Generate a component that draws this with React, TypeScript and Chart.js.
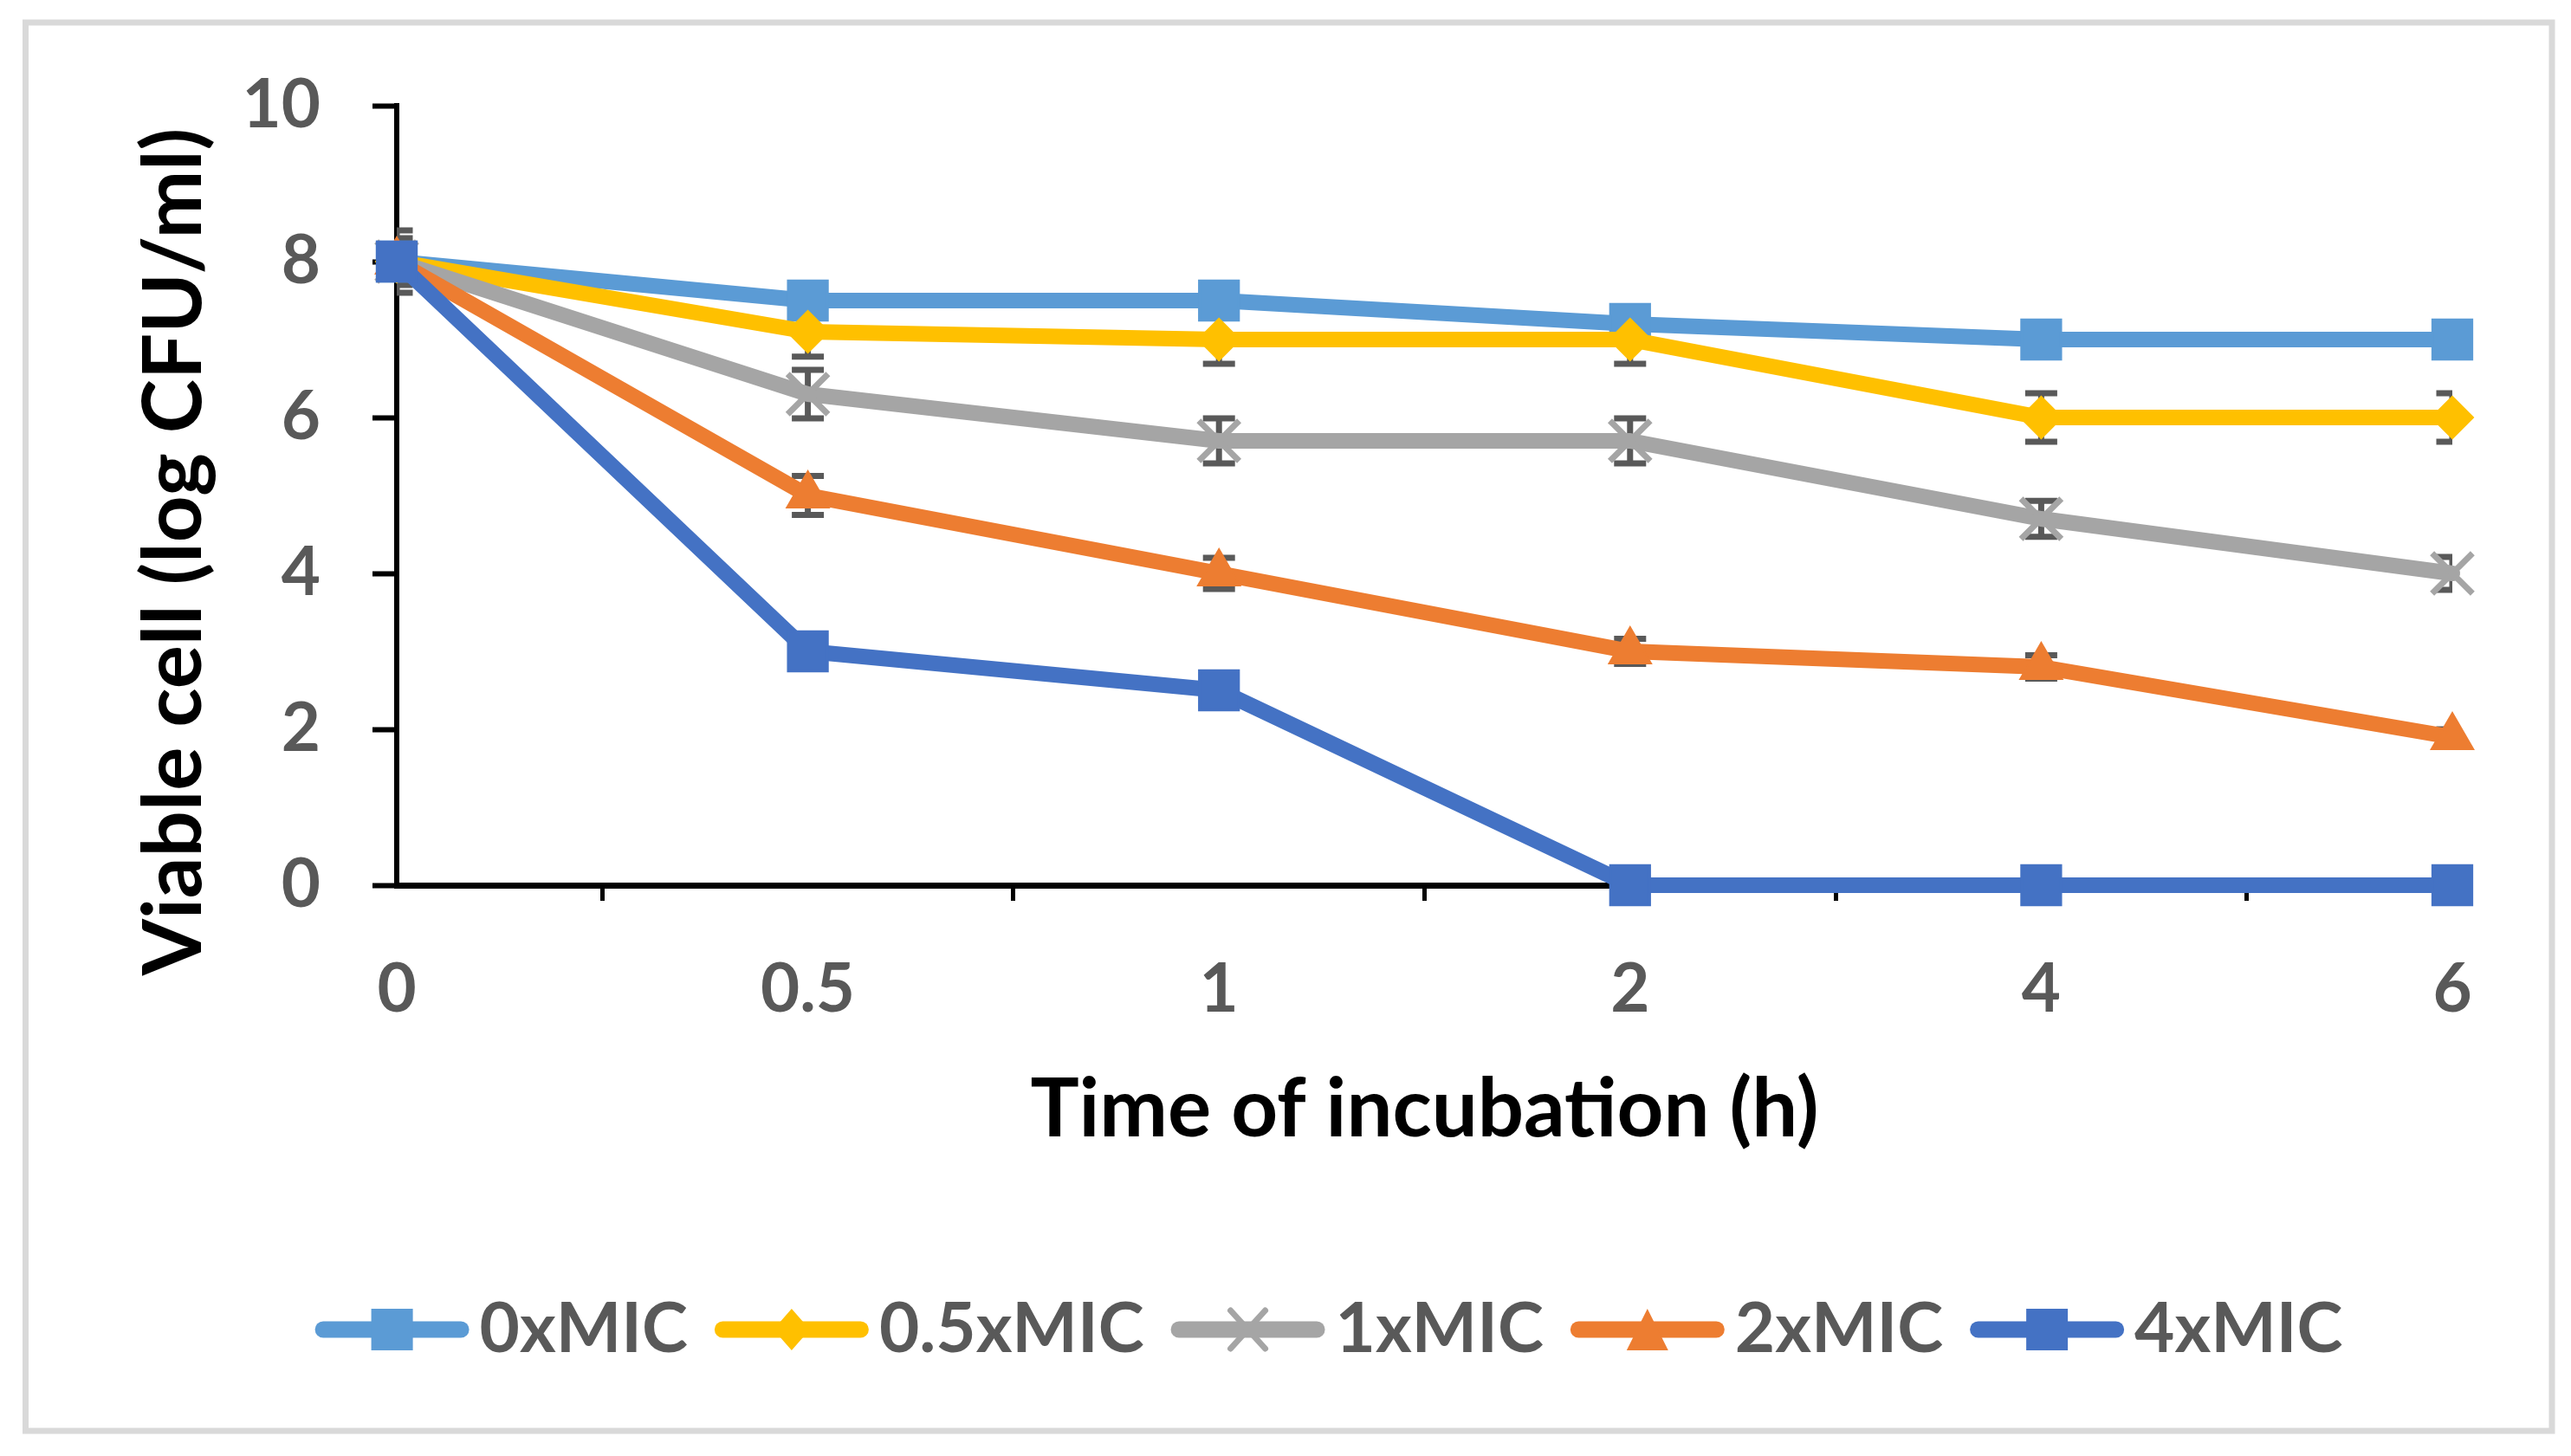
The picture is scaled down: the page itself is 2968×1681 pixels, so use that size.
import React, { useEffect, useRef } from 'react';
import { Chart, registerables } from 'chart.js';

Chart.register(...registerables);

// ---- data ----
const timeLabels = ['0', '0.5', '1', '2', '4', '6'];
const seriesNames = ['0xMIC', '0.5xMIC', '1xMIC', '2xMIC', '4xMIC'];
const mic0 = [8.0, 7.5, 7.5, 7.2, 7.0, 7.0];
const mic05 = [8.0, 7.1, 7.0, 7.0, 6.0, 6.0];
const mic1 = [8.0, 6.3, 5.7, 5.7, 4.7, 4.0];
const mic2 = [8.0, 5.0, 4.0, 3.0, 2.8, 1.9];
const mic4 = [8.0, 3.0, 2.5, 0, 0, 0];
const err0 = [0.2, 0.15, 0.15, 0.1, 0.1, 0.1];
const err05 = [0.3, 0.32, 0.31, 0.31, 0.31, 0.31];
const err1 = [0.4, 0.31, 0.29, 0.29, 0.23, 0.21];
const err2 = [0.2, 0.25, 0.2, 0.16, 0.15, 0.1];
const err4 = [0.15, 0.15, 0.15, 0, 0, 0];
const yMin = 0;
const yMax = 10;
const yStep = 2;
const xTitle = 'Time of incubation (h)';
const yTitle = 'Viable cell (log CFU/ml)';

const seriesValues = [mic0, mic05, mic1, mic2, mic4];
const seriesErrors = [err0, err05, err1, err2, err4];
const colors = ['#5B9BD5', '#FFC000', '#A5A5A5', '#ED7D31', '#4472C4'];
const pointStyles = ['rect', 'rectRot', 'crossRot', 'triangle', 'rect'];
const pointRadii = [32, 24, 33, 28, 32];
const pointBorders = [3, 2, 7, 2, 3];

const W = 2968;
const H = 1681;
const FONT = 'Lato, "Open Sans", sans-serif';

const errorBarPlugin = {
  id: 'errorBars',
  beforeDatasetsDraw(chart: any) {
    const { ctx, chartArea } = chart;
    const y = chart.scales.y;
    ctx.save();
    ctx.beginPath();
    ctx.rect(chartArea.left, chartArea.top, chartArea.right - chartArea.left, chartArea.bottom - chartArea.top);
    ctx.clip();
    ctx.strokeStyle = '#595959';
    ctx.lineWidth = 7;
    ctx.lineCap = 'butt';
    seriesErrors.forEach((errs, di) => {
      const meta = chart.getDatasetMeta(di);
      meta.data.forEach((pt: any, j: number) => {
        const e = errs[j];
        if (!e) return;
        const v = seriesValues[di][j];
        const yt = y.getPixelForValue(v + e);
        const yb = y.getPixelForValue(v - e);
        const x = pt.x;
        const cw = 18.5;
        ctx.beginPath();
        ctx.moveTo(x, yt);
        ctx.lineTo(x, yb);
        ctx.moveTo(x - cw, yt);
        ctx.lineTo(x + cw, yt);
        ctx.moveTo(x - cw, yb);
        ctx.lineTo(x + cw, yb);
        ctx.stroke();
      });
    });
    ctx.restore();
  },
};

function drawLegendMarker(ctx: CanvasRenderingContext2D, style: string, cx: number, cy: number, color: string) {
  ctx.save();
  ctx.fillStyle = color;
  ctx.strokeStyle = color;
  if (style === 'rect') {
    ctx.fillRect(cx - 24, cy - 24, 48, 48);
  } else if (style === 'rectRot') {
    ctx.beginPath();
    ctx.moveTo(cx, cy - 24);
    ctx.lineTo(cx + 21, cy);
    ctx.lineTo(cx, cy + 24);
    ctx.lineTo(cx - 21, cy);
    ctx.closePath();
    ctx.fill();
  } else if (style === 'crossRot') {
    ctx.lineWidth = 7;
    ctx.beginPath();
    ctx.moveTo(cx - 20, cy - 22);
    ctx.lineTo(cx + 20, cy + 22);
    ctx.moveTo(cx + 20, cy - 22);
    ctx.lineTo(cx - 20, cy + 22);
    ctx.stroke();
  } else if (style === 'triangle') {
    ctx.beginPath();
    ctx.moveTo(cx, cy - 24);
    ctx.lineTo(cx + 24, cy + 24);
    ctx.lineTo(cx - 24, cy + 24);
    ctx.closePath();
    ctx.fill();
  }
  ctx.restore();
}

const decorPlugin = {
  id: 'decor',
  beforeDraw(chart: any) {
    const ctx = chart.ctx as CanvasRenderingContext2D;
    ctx.save();
    ctx.fillStyle = '#ffffff';
    ctx.fillRect(0, 0, W, H);
    ctx.strokeStyle = '#D9D9D9';
    ctx.lineWidth = 7;
    ctx.strokeRect(29.5, 26, 2946 - 29.5, 1652 - 26);
    ctx.restore();
  },
  afterDraw(chart: any) {
    const ctx = chart.ctx as CanvasRenderingContext2D;
    const area = chart.chartArea;
    ctx.save();
    // x title
    ctx.fillStyle = '#000000';
    ctx.font = `bold 94px ${FONT}`;
    ctx.textAlign = 'center';
    ctx.textBaseline = 'alphabetic';
    ctx.fillText(xTitle, (area.left + area.right) / 2, 1312);
    // y title
    ctx.save();
    ctx.translate(232, 637);
    ctx.rotate(-Math.PI / 2);
    ctx.font = `bold 94px ${FONT}`;
    ctx.fillText(yTitle, 0, 0);
    ctx.restore();
    // legend
    ctx.font = `bold 80px ${FONT}`;
    ctx.textAlign = 'left';
    const lineW = 178;
    const gapText = 12;
    const gapItem = 31;
    const widths = seriesNames.map((n) => ctx.measureText(n).width);
    const total = widths.reduce((a, w) => a + lineW + gapText + w, 0) + gapItem * (seriesNames.length - 1);
    let x = 1534 - total / 2;
    const cy = 1535;
    seriesNames.forEach((name, i) => {
      ctx.strokeStyle = colors[i];
      ctx.lineWidth = 19;
      ctx.lineCap = 'round';
      ctx.beginPath();
      ctx.moveTo(x + 9.5, cy);
      ctx.lineTo(x + lineW - 9.5, cy);
      ctx.stroke();
      drawLegendMarker(ctx, pointStyles[i], x + lineW / 2, cy, colors[i]);
      ctx.fillStyle = '#595959';
      ctx.fillText(name, x + lineW + gapText, 1561);
      x += lineW + gapText + widths[i] + gapItem;
    });
    ctx.restore();
  },
};

export default function App() {
  const ref = useRef<HTMLCanvasElement | null>(null);

  useEffect(() => {
    document.body.style.margin = '0';
    const canvas = ref.current;
    if (!canvas) return;
    const datasets = seriesNames.map((name, i) => ({
      label: name,
      data: seriesValues[i],
      borderColor: colors[i],
      backgroundColor: colors[i],
      borderWidth: 18,
      borderJoinStyle: 'round' as const,
      borderCapStyle: 'round' as const,
      pointStyle: pointStyles[i] as any,
      pointRadius: pointRadii[i],
      pointBorderWidth: pointBorders[i],
      pointBackgroundColor: colors[i],
      pointBorderColor: colors[i],
      tension: 0,
      clip: false as any,
      order: seriesNames.length - i,
    }));
    const tickFont = { family: FONT, size: 78, weight: 'bold' as const };
    const chart = new Chart(canvas, {
      type: 'line',
      data: { labels: timeLabels, datasets },
      options: {
        responsive: false,
        animation: false,
        devicePixelRatio: 1,
        events: [],
        layout: { padding: { left: 0, top: 122, right: W - 2831, bottom: 0 } },
        plugins: { legend: { display: false }, tooltip: { enabled: false }, title: { display: false } },
        scales: {
          x: {
            type: 'category',
            offset: false,
            grid: {
              offset: true,
              drawOnChartArea: false,
              drawTicks: true,
              tickLength: 18,
              tickWidth: 5,
              tickColor: '#000000',
            },
            border: { display: true, color: '#000000', width: 7 },
            ticks: { font: tickFont, color: '#595959', padding: 56, maxRotation: 0, autoSkip: false },
            afterFit: (s: any) => {
              s.height = H - 1022;
            },
          },
          y: {
            min: yMin,
            max: yMax,
            ticks: { stepSize: yStep, font: tickFont, color: '#595959', padding: 60 },
            grid: {
              drawOnChartArea: false,
              drawTicks: true,
              tickLength: 28,
              tickWidth: 6,
              tickColor: '#000000',
            },
            border: { display: true, color: '#000000', width: 6 },
            afterFit: (s: any) => {
              s.width = 458;
            },
          },
        },
      },
      plugins: [decorPlugin, errorBarPlugin],
    });
    return () => chart.destroy();
  }, []);

  return (
    <div style={{ width: W, height: H, overflow: 'hidden', background: '#fff' }}>
      <canvas ref={ref} width={W} height={H} style={{ width: W, height: H, display: 'block' }} />
    </div>
  );
}
